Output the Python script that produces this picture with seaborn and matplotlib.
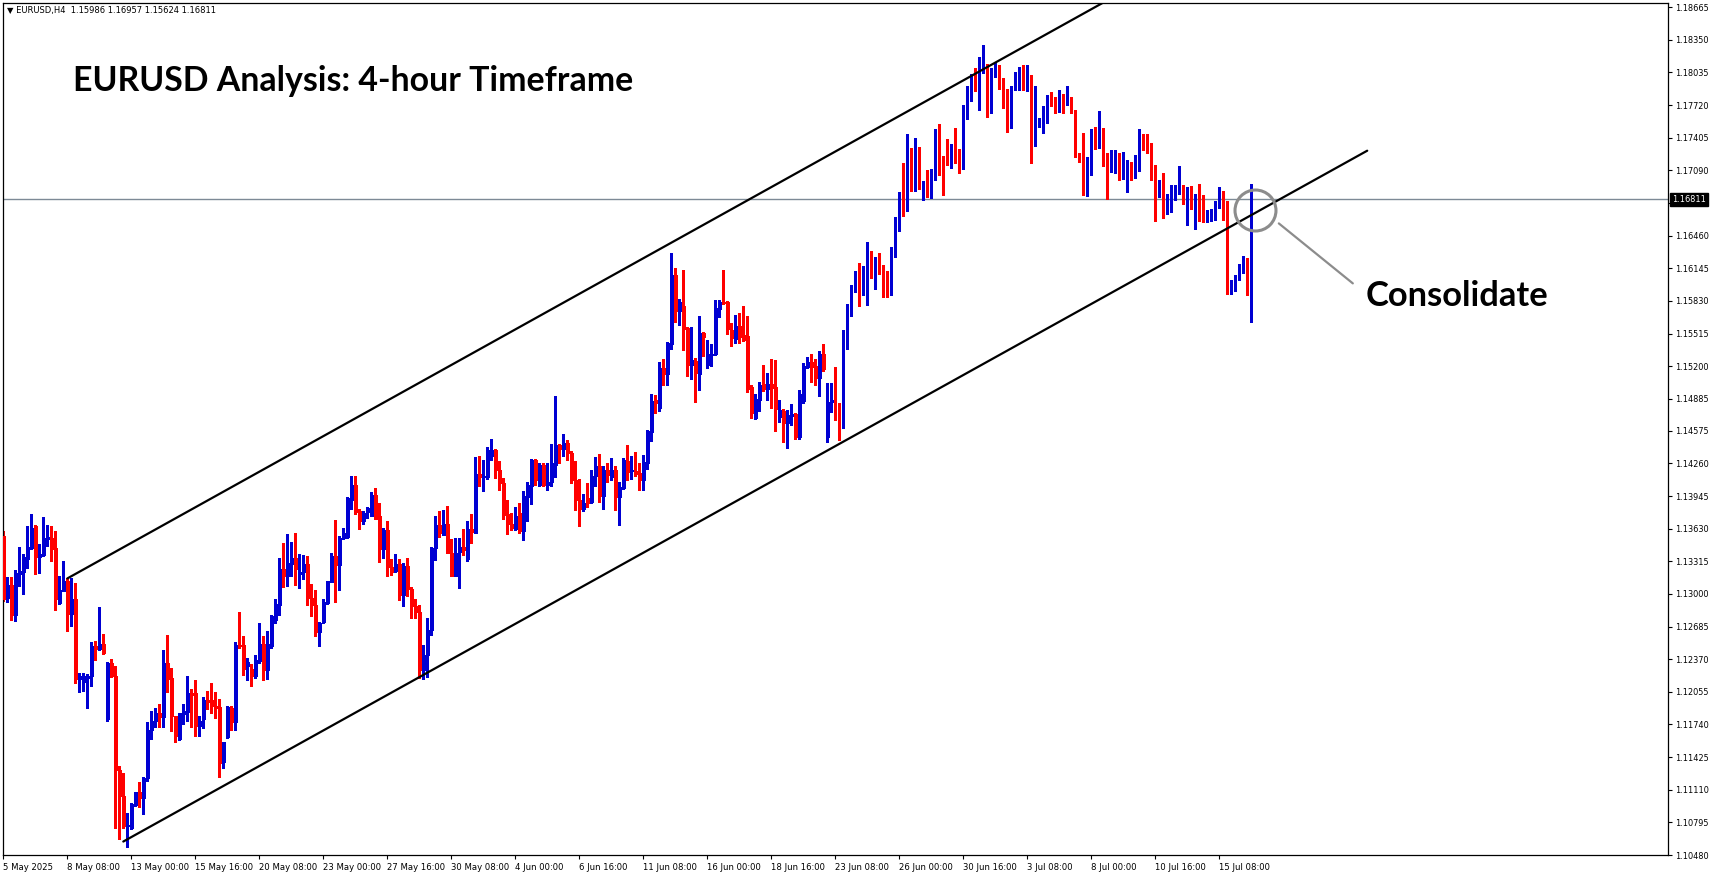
import numpy as np
import pandas as pd
import seaborn as sns
import matplotlib.pyplot as plt

# EURUSD H4 candles (bar index 0 = 5 May 2025 16:00)
opens = [
    1.1356, 1.1296, 1.1309, 1.1280, 1.1319, 1.1321, 1.1334, 1.1344, 1.1366, 1.1336,
    1.1338, 1.1353, 1.1354, 1.1344, 1.1291, 1.1303, 1.1313, 1.1281, 1.1295, 1.1218,
    1.1215, 1.1219, 1.1221, 1.1250, 1.1247, 1.1252, 1.1179, 1.1233, 1.1221, 1.1130,
    1.1105, 1.1076, 1.1074, 1.1096, 1.1109, 1.1103, 1.1122, 1.1169, 1.1177, 1.1185,
    1.1181, 1.1233, 1.1219, 1.1182, 1.1160, 1.1184, 1.1186, 1.1204, 1.1204, 1.1173,
    1.1179, 1.1198, 1.1198, 1.1192, 1.1191, 1.1138, 1.1162, 1.1190, 1.1176, 1.1251,
    1.1251, 1.1230, 1.1228, 1.1221, 1.1235, 1.1252, 1.1227, 1.1250, 1.1275, 1.1289,
    1.1324, 1.1317, 1.1329, 1.1335, 1.1319, 1.1321, 1.1329, 1.1296, 1.1289, 1.1263,
    1.1273, 1.1291, 1.1312, 1.1337, 1.1328, 1.1354, 1.1355, 1.1391, 1.1405, 1.1380,
    1.1370, 1.1379, 1.1375, 1.1396, 1.1375, 1.1343, 1.1362, 1.1326, 1.1322, 1.1329,
    1.1299, 1.1327, 1.1305, 1.1288, 1.1283, 1.1227, 1.1241, 1.1265, 1.1344, 1.1367,
    1.1357, 1.1368, 1.1340, 1.1317, 1.1341, 1.1345, 1.1334, 1.1363, 1.1359, 1.1416,
    1.1413, 1.1413, 1.1433, 1.1439, 1.1420, 1.1407, 1.1377, 1.1368, 1.1363, 1.1378,
    1.1361, 1.1394, 1.1404, 1.1429, 1.1405, 1.1425, 1.1405, 1.1408, 1.1425, 1.1444,
    1.1440, 1.1446, 1.1436, 1.1410, 1.1391, 1.1382, 1.1393, 1.1389, 1.1414, 1.1424,
    1.1395, 1.1420, 1.1413, 1.1420, 1.1394, 1.1402, 1.1428, 1.1419, 1.1419, 1.1417,
    1.1410, 1.1426, 1.1456, 1.1487, 1.1480, 1.1518, 1.1512, 1.1541, 1.1608, 1.1573,
    1.1578, 1.1557, 1.1521, 1.1525, 1.1512, 1.1552, 1.1521, 1.1531, 1.1532, 1.1575,
    1.1582, 1.1582, 1.1555, 1.1546, 1.1559, 1.1550, 1.1549, 1.1500, 1.1470, 1.1487,
    1.1503, 1.1498, 1.1503, 1.1500, 1.1471, 1.1477, 1.1465, 1.1472, 1.1474, 1.1452,
    1.1486, 1.1519, 1.1524, 1.1520, 1.1509, 1.1532, 1.1452, 1.1485, 1.1487, 1.1479,
    1.1463, 1.1541, 1.1569, 1.1597, 1.1604, 1.1590, 1.1598, 1.1622, 1.1606, 1.1624,
    1.1612, 1.1608, 1.1589, 1.1628, 1.1655, 1.1682, 1.1679, 1.1727, 1.1706, 1.1729,
    1.1683, 1.1691, 1.1683, 1.1708, 1.1747, 1.1722, 1.1728, 1.1716, 1.1730, 1.1728,
    1.1711, 1.1762, 1.1776, 1.1799, 1.1786, 1.1805, 1.1805, 1.1765, 1.1805, 1.1808,
    1.1796, 1.1775, 1.1756, 1.1788, 1.1794, 1.1808, 1.1789, 1.1798, 1.1737, 1.1751,
    1.1754, 1.1767, 1.1780, 1.1774, 1.1766, 1.1774, 1.1773, 1.1779, 1.1766, 1.1724,
    1.1722, 1.1693, 1.1706, 1.1743, 1.1741, 1.1749, 1.1725, 1.1708, 1.1707, 1.1724,
    1.1711, 1.1711, 1.1715, 1.1703, 1.1709, 1.1743, 1.1735, 1.1728, 1.1706, 1.1684,
    1.1699, 1.1673, 1.1674, 1.1680, 1.1687, 1.1690, 1.1658, 1.1693, 1.1672, 1.1684,
    1.1684, 1.1660, 1.1661, 1.1670, 1.1674, 1.1685, 1.1677, 1.1593, 1.1595, 1.1605,
    1.1617, 1.1623, 1.15986,
]
highs = [
    1.1361, 1.1316, 1.1316, 1.1323, 1.1345, 1.1339, 1.1366, 1.1377, 1.1367, 1.1348,
    1.1374, 1.1367, 1.1366, 1.1361, 1.1317, 1.1332, 1.1315, 1.1315, 1.1311, 1.1224,
    1.1224, 1.1223, 1.1254, 1.1255, 1.1287, 1.1261, 1.1234, 1.1237, 1.1230, 1.1134,
    1.1127, 1.1089, 1.1098, 1.1109, 1.1118, 1.1123, 1.1176, 1.1187, 1.1190, 1.1194,
    1.1246, 1.1260, 1.1229, 1.1182, 1.1185, 1.1194, 1.1221, 1.1208, 1.1217, 1.1182,
    1.1201, 1.1206, 1.1214, 1.1205, 1.1199, 1.1157, 1.1192, 1.1192, 1.1254, 1.1283,
    1.1259, 1.1238, 1.1232, 1.1241, 1.1272, 1.1259, 1.1264, 1.1280, 1.1295, 1.1335,
    1.1349, 1.1358, 1.1350, 1.1359, 1.1339, 1.1338, 1.1337, 1.1310, 1.1304, 1.1273,
    1.1295, 1.1313, 1.1340, 1.1371, 1.1356, 1.1364, 1.1394, 1.1414, 1.1414, 1.1382,
    1.1380, 1.1384, 1.1398, 1.1402, 1.1388, 1.1364, 1.1370, 1.1334, 1.1339, 1.1334,
    1.1330, 1.1335, 1.1307, 1.1295, 1.1289, 1.1251, 1.1277, 1.1345, 1.1375, 1.1380,
    1.1381, 1.1385, 1.1353, 1.1354, 1.1354, 1.1363, 1.1370, 1.1377, 1.1432, 1.1433,
    1.1429, 1.1442, 1.1450, 1.1440, 1.1428, 1.1412, 1.1391, 1.1378, 1.1384, 1.1388,
    1.1399, 1.1408, 1.1430, 1.1430, 1.1426, 1.1426, 1.1426, 1.1445, 1.1491, 1.1445,
    1.1454, 1.1449, 1.1438, 1.1428, 1.1411, 1.1397, 1.1407, 1.1420, 1.1432, 1.1435,
    1.1424, 1.1426, 1.1431, 1.1424, 1.1408, 1.1431, 1.1444, 1.1433, 1.1437, 1.1426,
    1.1434, 1.1458, 1.1493, 1.1492, 1.1524, 1.1527, 1.1543, 1.1629, 1.1615, 1.1585,
    1.1613, 1.1558, 1.1558, 1.1528, 1.1568, 1.1553, 1.1545, 1.1541, 1.1584, 1.1584,
    1.1613, 1.1583, 1.1562, 1.1569, 1.1571, 1.1578, 1.1568, 1.1502, 1.1493, 1.1505,
    1.1521, 1.1513, 1.1527, 1.1526, 1.1487, 1.1479, 1.1478, 1.1483, 1.1475, 1.1497,
    1.1523, 1.1529, 1.1532, 1.1527, 1.1535, 1.1541, 1.1504, 1.1504, 1.1519, 1.1484,
    1.1555, 1.1580, 1.1598, 1.1612, 1.1620, 1.1617, 1.1640, 1.1631, 1.1625, 1.1629,
    1.1618, 1.1612, 1.1635, 1.1664, 1.1688, 1.1716, 1.1744, 1.1731, 1.1740, 1.1732,
    1.1699, 1.1709, 1.1710, 1.1749, 1.1754, 1.1723, 1.1739, 1.1734, 1.1750, 1.1730,
    1.1772, 1.1790, 1.1802, 1.1808, 1.1818, 1.1830, 1.1812, 1.1808, 1.1813, 1.1811,
    1.1798, 1.1788, 1.1790, 1.1804, 1.1809, 1.1811, 1.1811, 1.1801, 1.1790, 1.1760,
    1.1771, 1.1782, 1.1785, 1.1780, 1.1787, 1.1783, 1.1790, 1.1780, 1.1767, 1.1726,
    1.1745, 1.1722, 1.1749, 1.1751, 1.1766, 1.1750, 1.1726, 1.1729, 1.1729, 1.1726,
    1.1727, 1.1719, 1.1717, 1.1724, 1.1749, 1.1744, 1.1744, 1.1735, 1.1714, 1.1700,
    1.1706, 1.1686, 1.1695, 1.1695, 1.1713, 1.1695, 1.1693, 1.1694, 1.1686, 1.1696,
    1.1685, 1.1671, 1.1672, 1.1679, 1.1693, 1.1689, 1.1679, 1.1603, 1.1608, 1.1619,
    1.1626, 1.1624, 1.16957,
]
lows = [
    1.1293, 1.1292, 1.1275, 1.1274, 1.1308, 1.1300, 1.1325, 1.1343, 1.1319, 1.1320,
    1.1337, 1.1346, 1.1332, 1.1285, 1.1290, 1.1303, 1.1264, 1.1269, 1.1214, 1.1205,
    1.1206, 1.1190, 1.1211, 1.1236, 1.1246, 1.1242, 1.1177, 1.1220, 1.1074, 1.1063,
    1.1074, 1.1056, 1.1073, 1.1095, 1.1094, 1.1088, 1.1119, 1.1160, 1.1172, 1.1172,
    1.1172, 1.1205, 1.1168, 1.1157, 1.1159, 1.1174, 1.1177, 1.1172, 1.1163, 1.1163,
    1.1171, 1.1189, 1.1185, 1.1180, 1.1123, 1.1132, 1.1161, 1.1169, 1.1169, 1.1248,
    1.1222, 1.1217, 1.1211, 1.1219, 1.1233, 1.1217, 1.1218, 1.1248, 1.1272, 1.1280,
    1.1307, 1.1308, 1.1317, 1.1309, 1.1306, 1.1314, 1.1289, 1.1279, 1.1259, 1.1250,
    1.1272, 1.1290, 1.1312, 1.1292, 1.1304, 1.1353, 1.1354, 1.1382, 1.1377, 1.1363,
    1.1368, 1.1373, 1.1375, 1.1372, 1.1331, 1.1335, 1.1317, 1.1318, 1.1321, 1.1294,
    1.1288, 1.1298, 1.1277, 1.1277, 1.1219, 1.1218, 1.1220, 1.1260, 1.1333, 1.1355,
    1.1357, 1.1340, 1.1317, 1.1317, 1.1306, 1.1338, 1.1332, 1.1349, 1.1359, 1.1404,
    1.1399, 1.1411, 1.1429, 1.1412, 1.1400, 1.1372, 1.1358, 1.1362, 1.1362, 1.1359,
    1.1352, 1.1370, 1.1387, 1.1405, 1.1404, 1.1404, 1.1400, 1.1404, 1.1413, 1.1426,
    1.1433, 1.1429, 1.1407, 1.1381, 1.1366, 1.1380, 1.1384, 1.1388, 1.1404, 1.1389,
    1.1382, 1.1408, 1.1410, 1.1381, 1.1367, 1.1401, 1.1410, 1.1411, 1.1414, 1.1400,
    1.1400, 1.1421, 1.1448, 1.1475, 1.1477, 1.1502, 1.1502, 1.1537, 1.1563, 1.1560,
    1.1536, 1.1510, 1.1508, 1.1485, 1.1497, 1.1530, 1.1518, 1.1520, 1.1531, 1.1567,
    1.1580, 1.1551, 1.1539, 1.1542, 1.1542, 1.1544, 1.1495, 1.1470, 1.1469, 1.1477,
    1.1496, 1.1487, 1.1480, 1.1457, 1.1466, 1.1447, 1.1441, 1.1463, 1.1450, 1.1450,
    1.1484, 1.1518, 1.1505, 1.1502, 1.1491, 1.1515, 1.1447, 1.1476, 1.1468, 1.1449,
    1.1460, 1.1537, 1.1568, 1.1592, 1.1578, 1.1589, 1.1579, 1.1605, 1.1594, 1.1609,
    1.1587, 1.1587, 1.1589, 1.1625, 1.1650, 1.1665, 1.1670, 1.1689, 1.1689, 1.1691,
    1.1680, 1.1683, 1.1682, 1.1700, 1.1705, 1.1685, 1.1714, 1.1711, 1.1716, 1.1706,
    1.1710, 1.1759, 1.1776, 1.1786, 1.1767, 1.1803, 1.1761, 1.1764, 1.1799, 1.1788,
    1.1769, 1.1746, 1.1750, 1.1787, 1.1787, 1.1787, 1.1786, 1.1716, 1.1733, 1.1751,
    1.1745, 1.1755, 1.1771, 1.1764, 1.1765, 1.1764, 1.1772, 1.1764, 1.1722, 1.1717,
    1.1685, 1.1684, 1.1705, 1.1730, 1.1731, 1.1713, 1.1681, 1.1707, 1.1706, 1.1700,
    1.1701, 1.1688, 1.1700, 1.1702, 1.1708, 1.1729, 1.1726, 1.1700, 1.1660, 1.1683,
    1.1663, 1.1667, 1.1669, 1.1680, 1.1686, 1.1677, 1.1656, 1.1672, 1.1652, 1.1660,
    1.1659, 1.1659, 1.1660, 1.1661, 1.1673, 1.1661, 1.1590, 1.1590, 1.1593, 1.1603,
    1.1610, 1.1589, 1.15624,
]
closes = [
    1.1295, 1.1309, 1.1280, 1.1320, 1.1322, 1.1336, 1.1345, 1.1364, 1.1336, 1.1339,
    1.1354, 1.1355, 1.1343, 1.1295, 1.1304, 1.1313, 1.1281, 1.1295, 1.1218, 1.1221,
    1.1221, 1.1221, 1.1250, 1.1247, 1.1252, 1.1243, 1.1233, 1.1221, 1.1130, 1.1105,
    1.1076, 1.1077, 1.1097, 1.1109, 1.1103, 1.1122, 1.1169, 1.1177, 1.1185, 1.1181,
    1.1233, 1.1218, 1.1182, 1.1163, 1.1185, 1.1187, 1.1204, 1.1202, 1.1173, 1.1177,
    1.1198, 1.1196, 1.1192, 1.1190, 1.1137, 1.1157, 1.1191, 1.1176, 1.1251, 1.1250,
    1.1228, 1.1234, 1.1221, 1.1236, 1.1252, 1.1227, 1.1252, 1.1279, 1.1290, 1.1324,
    1.1317, 1.1330, 1.1335, 1.1324, 1.1321, 1.1329, 1.1296, 1.1289, 1.1263, 1.1272,
    1.1292, 1.1313, 1.1337, 1.1328, 1.1354, 1.1359, 1.1393, 1.1405, 1.1379, 1.1370,
    1.1378, 1.1383, 1.1396, 1.1372, 1.1343, 1.1362, 1.1326, 1.1321, 1.1329, 1.1299,
    1.1327, 1.1305, 1.1288, 1.1283, 1.1227, 1.1241, 1.1265, 1.1344, 1.1367, 1.1359,
    1.1368, 1.1340, 1.1317, 1.1340, 1.1345, 1.1342, 1.1363, 1.1360, 1.1416, 1.1413,
    1.1414, 1.1439, 1.1439, 1.1420, 1.1407, 1.1376, 1.1368, 1.1364, 1.1375, 1.1361,
    1.1395, 1.1405, 1.1429, 1.1410, 1.1425, 1.1405, 1.1408, 1.1426, 1.1444, 1.1440,
    1.1446, 1.1436, 1.1410, 1.1391, 1.1382, 1.1388, 1.1388, 1.1414, 1.1424, 1.1395,
    1.1420, 1.1415, 1.1420, 1.1394, 1.1403, 1.1429, 1.1418, 1.1420, 1.1416, 1.1410,
    1.1427, 1.1457, 1.1486, 1.1484, 1.1518, 1.1512, 1.1542, 1.1608, 1.1573, 1.1582,
    1.1556, 1.1521, 1.1526, 1.1513, 1.1552, 1.1548, 1.1532, 1.1532, 1.1576, 1.1582,
    1.1581, 1.1556, 1.1547, 1.1559, 1.1548, 1.1545, 1.1498, 1.1475, 1.1488, 1.1502,
    1.1498, 1.1503, 1.1499, 1.1479, 1.1478, 1.1465, 1.1473, 1.1474, 1.1452, 1.1493,
    1.1520, 1.1524, 1.1519, 1.1509, 1.1532, 1.1517, 1.1485, 1.1487, 1.1477, 1.1463,
    1.1542, 1.1576, 1.1597, 1.1604, 1.1590, 1.1599, 1.1623, 1.1606, 1.1624, 1.1611,
    1.1608, 1.1589, 1.1629, 1.1658, 1.1682, 1.1678, 1.1727, 1.1705, 1.1729, 1.1701,
    1.1691, 1.1684, 1.1709, 1.1747, 1.1722, 1.1719, 1.1716, 1.1730, 1.1728, 1.1711,
    1.1763, 1.1788, 1.1799, 1.1786, 1.1805, 1.1806, 1.1765, 1.1807, 1.1808, 1.1797,
    1.1775, 1.1756, 1.1788, 1.1798, 1.1807, 1.1788, 1.1798, 1.1737, 1.1752, 1.1757,
    1.1767, 1.1780, 1.1774, 1.1766, 1.1774, 1.1772, 1.1780, 1.1766, 1.1723, 1.1722,
    1.1693, 1.1708, 1.1743, 1.1741, 1.1749, 1.1719, 1.1708, 1.1725, 1.1724, 1.1709,
    1.1713, 1.1715, 1.1704, 1.1722, 1.1743, 1.1735, 1.1728, 1.1705, 1.1684, 1.1699,
    1.1673, 1.1676, 1.1681, 1.1688, 1.1690, 1.1682, 1.1693, 1.1682, 1.1682, 1.1678,
    1.1660, 1.1664, 1.1671, 1.1675, 1.1686, 1.1677, 1.1593, 1.1601, 1.1606, 1.1618,
    1.1623, 1.1596, 1.16811,
]

# channel lines: (bar, price) anchors
upper_x = [16, 275]
upper_y = [1.1315, 1.1871]
lower_x = [30, 341]
lower_y = [1.1061, 1.1728]

last_price = 1.16811

price_ticks = [1.18665, 1.18350, 1.18035, 1.17720, 1.17405, 1.17090, 1.16775,
               1.16460, 1.16145, 1.15830, 1.15515, 1.15200, 1.14885, 1.14575,
               1.14260, 1.13945, 1.13630, 1.13315, 1.13000, 1.12685, 1.12370,
               1.12055, 1.11740, 1.11425, 1.11110, 1.10795, 1.10480]
price_labels = ["1.18665", "1.18350", "1.18035", "1.17720", "1.17405", "1.17090", "",
                "1.16460", "1.16145", "1.15830", "1.15515", "1.15200", "1.14885", "1.14575",
                "1.14260", "1.13945", "1.13630", "1.13315", "1.13000", "1.12685", "1.12370",
                "1.12055", "1.11740", "1.11425", "1.11110", "1.10795", "1.10480"]

date_ticks = [0, 16, 32, 48, 64, 80, 96, 112, 128, 144, 160, 176, 192, 208,
              224, 240, 256, 272, 288, 304]
date_labels = ["5 May 2025", "8 May 08:00", "13 May 00:00", "15 May 16:00", "20 May 08:00",
               "23 May 00:00", "27 May 16:00", "30 May 08:00", "4 Jun 00:00", "6 Jun 16:00",
               "11 Jun 08:00", "16 Jun 00:00", "18 Jun 16:00", "23 Jun 08:00", "26 Jun 00:00",
               "30 Jun 16:00", "3 Jul 08:00", "8 Jul 00:00", "10 Jul 16:00", "15 Jul 08:00"]

df = pd.DataFrame({"open": opens, "high": highs, "low": lows, "close": closes})
df["bar"] = np.arange(len(df))
df["up"] = df["close"] >= df["open"]

BLUE = "#0000d2"
RED = "#ff0000"
df["color"] = np.where(df["up"], BLUE, RED)

sns.set_theme(style="white")
plt.rcParams["font.family"] = ["DejaVu Sans"]

W, H = 1714, 888
fig = plt.figure(figsize=(W / 100, H / 100), dpi=100)
ax = fig.add_axes([3 / W, 33 / H, 1665 / W, 852 / H])

# wicks + bodies
ax.vlines(df["bar"], df["low"], df["high"], colors=df["color"], linewidth=0.75,
          antialiased=False, zorder=2)
body_lo = df[["open", "close"]].min(axis=1)
body_h = (df["close"] - df["open"]).abs()
ax.bar(df["bar"], body_h, bottom=body_lo, width=0.62, color=df["color"],
       edgecolor=df["color"], linewidth=0.7, antialiased=False, zorder=3)

# channel
sns.lineplot(x=upper_x, y=upper_y, ax=ax, color="black", linewidth=1.6, zorder=4)
sns.lineplot(x=lower_x, y=lower_y, ax=ax, color="black", linewidth=1.6, zorder=4)

# bid line
ax.axhline(last_price, color="#7d8a96", linewidth=1.0, zorder=1)

ax.set_xlim(-0.08, 416.2)
ax.set_ylim(1.10480, 1.18706)

for s in ax.spines.values():
    s.set_color("black")
    s.set_linewidth(0.9)

ax.yaxis.tick_right()
ax.set_yticks(price_ticks)
ax.set_yticklabels(price_labels)
ax.set_xticks(date_ticks)
ax.set_xticklabels(date_labels)
ax.tick_params(axis="y", which="major", direction="out", length=3, width=0.8,
               labelsize=5.9, pad=2, colors="black", right=True, left=False)
ax.tick_params(axis="x", which="major", direction="out", length=3, width=0.8,
               labelsize=6.1, pad=3, colors="black", bottom=True)
for lab in ax.get_xticklabels():
    lab.set_horizontalalignment("left")
ax.set_xlabel("")
ax.set_ylabel("")
ax.grid(False)

# last price tag on the price scale
ax.annotate(f"{last_price:.5f}", xy=(1.0, last_price), xycoords=("axes fraction", "data"),
            xytext=(4, 0), textcoords="offset pixels", ha="left", va="center",
            fontsize=5.9, color="white",
            bbox=dict(boxstyle="square,pad=0.25", facecolor="black", edgecolor="black"))

# consolidation marker
ax.plot([313.05], [1.16704], marker="o", markersize=29.5, markerfacecolor="none",
        markeredgecolor="#8c8c8c", markeredgewidth=2.2, zorder=5, clip_on=False)
ax.plot([318.9, 337.4], [1.16578, 1.15999], color="#8c8c8c", linewidth=1.6, zorder=5)

fig.text(7 / W, 1 - 10 / H, "\u25bc EURUSD,H4  1.15986 1.16957 1.15624 1.16811",
         fontsize=6.0, va="center", ha="left", color="black")
fig.text(73 / W, 1 - 81 / H, "EURUSD Analysis: 4-hour Timeframe",
         family=["Lato", "DejaVu Sans"], fontweight="bold", fontsize=24.4,
         va="center", ha="left", color="black")
fig.text(1366 / W, 1 - 296 / H, "Consolidate",
         family=["Lato", "DejaVu Sans"], fontweight="bold", fontsize=24.8,
         va="center", ha="left", color="black")

fig.savefig("out.png", dpi=100, facecolor="white")
